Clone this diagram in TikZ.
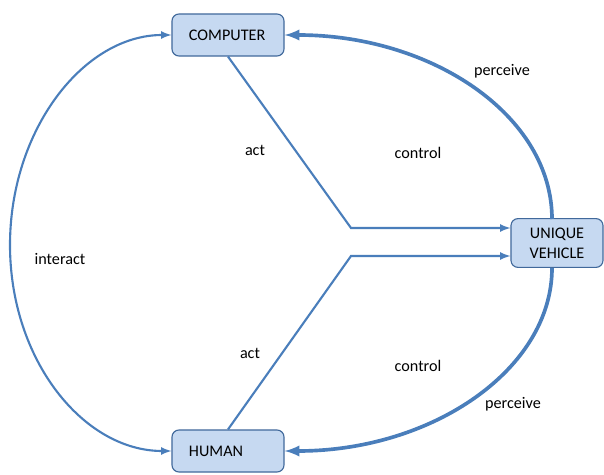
\documentclass[tikz,border=0pt]{standalone}
\usepackage{fontspec}
\setmainfont{Carlito}
\usepackage{xcolor}
\usetikzlibrary{shapes, arrows, positioning, calc}
\definecolor{linkblue}{RGB}{74,126,187}
\definecolor{boxfill}{RGB}{198,217,241}
\definecolor{boxline}{RGB}{65,105,155}
\tikzset{
	box/.style={draw=boxline, fill=boxfill, thick, rounded corners=5pt, font=\fontsize{11.5}{14}\selectfont},
	link/.style={draw=linkblue, line width=1.5pt, -latex},
	biglink/.style={draw=linkblue, line width=2.6pt, -latex},
	lbl/.style={font=\fontsize{11.5}{14}\selectfont}
}

\begin{document}
\begin{tikzpicture}[x=0.025cm, y=0.025cm]
				\useasboundingbox (0,0) rectangle (604,474);
				\node[box, minimum width=2.8cm, minimum height=1.05cm, text width=1.95cm, align=left] (computer) at (228,439) {COMPUTER};
				\node[box, minimum width=2.8cm, minimum height=1.05cm, text width=1.95cm, align=left] (human) at (228,23) {HUMAN};
				\node[box, minimum width=2.3cm, minimum height=1.22cm, align=center, inner sep=2pt] (vehicle) at (557,231) {UNIQUE\\VEHICLE};
				
				\coordinate (forkc) at (351,246);
				\coordinate (forkh) at (351,218);
				\coordinate (vtop) at (552,255);
				\coordinate (vbot) at (552,206);
				\coordinate (ileft) at (10,229);
				
				\draw[link] (computer.south) -- (forkc) -- (vehicle.west |- forkc);
				\draw[link] (human.north) -- (forkh) -- (vehicle.west |- forkh);
				
				\draw[biglink] (vtop) .. controls +(0,103) and +(148,0) .. (computer.east);
				\draw[biglink] (vbot) .. controls +(0,-101) and +(148,0) .. (human.east);
				
				\draw[link, latex-latex] (computer.west) .. controls +(-88,0) and +(0,115) .. (ileft)
				.. controls +(0,-115) and +(-88,0) .. (human.west);
				
				\node[lbl] (perc1) at (502,403) {perceive};
				\node[lbl] (ctrl1) at (418,321) {control};
				\node[lbl] (act1) at (255,324) {act};
				\node[lbl] (inter) at (60,215) {interact};
				\node[lbl] (act2) at (250,121) {act};
				\node[lbl] (ctrl2) at (418,108) {control};
				\node[lbl] (perc2) at (513,70) {perceive};
\end{tikzpicture}
\end{document}
